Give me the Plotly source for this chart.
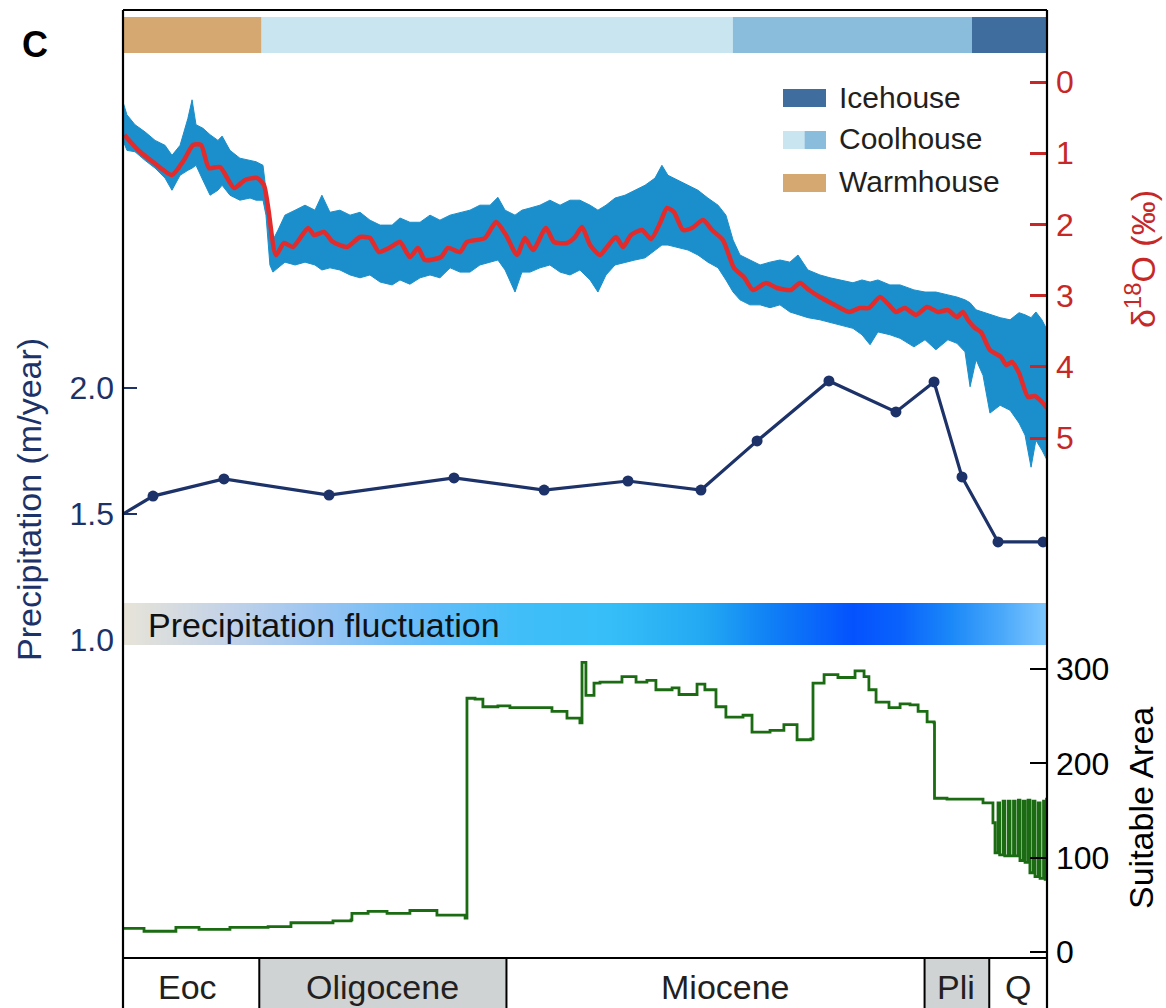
import numpy as np
import plotly.graph_objects as go

W, H = 1166, 1008
ML, MR, MT, MB = 123, 119, 10, 0
PW, PH = W - ML - MR, H - MT - MB


def px(x):
    return (x - ML) / PW


def py(y):
    return (H - MB - y) / PH


FONT = "Arial, Liberation Sans, sans-serif"
NAVY = "#1C3268"
RED = "#C62828"
REDLINE = "#E32B2B"
BLUE = "#1A8FCB"
GREEN = "#1A6B12"

# ---------------- data ----------------
precip_age = [40.0, 38.70, 35.63, 31.08, 25.67, 21.77, 18.14, 14.98, 12.55, 9.44, 6.54, 4.89, 3.68, 2.12, 0.17]
precip_val = [1.50, 1.571, 1.639, 1.575, 1.643, 1.595, 1.631, 1.595, 1.790, 2.028, 1.905, 2.024, 1.647, 1.389, 1.389]

d18o_smooth_age = [39.94, 39.35, 38.70, 37.88, 37.36, 36.97, 36.62, 36.28, 35.80, 35.19, 34.72, 34.20, 33.90,
                   33.72, 33.38, 33.03, 32.64, 31.99, 31.73, 31.30, 30.91, 30.30, 29.74, 29.31, 28.92, 28.48,
                   28.01, 27.58, 27.23, 26.93, 26.23, 25.93, 25.41, 25.11, 24.33, 23.85, 23.42, 22.94, 22.60,
                   22.25, 21.69, 21.34, 20.78, 20.43, 20.13, 19.78, 19.35, 19.05, 18.66, 18.35, 18.01, 17.53,
                   17.14, 16.75, 16.45, 16.15, 15.76, 15.37, 14.89, 14.50, 14.03, 13.55, 13.12, 12.73, 12.16,
                   11.69, 11.08, 10.69, 10.30, 9.83, 9.18, 8.57, 8.10, 7.71, 7.23, 6.84, 6.54, 6.15, 5.67,
                   5.19, 4.72, 4.29, 3.90, 3.64, 3.42, 3.12, 2.86, 2.47, 1.99, 1.77, 1.52, 1.21, 0.82, 0.52,
                   0.22, 0.00]
d18o_smooth_val = [0.744, 0.955, 1.124, 1.306, 1.096, 0.885, 0.885, 1.208, 1.194, 1.489, 1.376, 1.348, 1.447,
                   1.756, 2.430, 2.261, 2.317, 2.051, 2.149, 2.107, 2.247, 2.317, 2.177, 2.191, 2.388, 2.331,
                   2.247, 2.458, 2.331, 2.500, 2.458, 2.331, 2.388, 2.247, 2.191, 1.966, 2.149, 2.430, 2.191,
                   2.360, 2.051, 2.247, 2.261, 2.177, 2.037, 2.289, 2.430, 2.317, 2.177, 2.317, 2.149, 2.079,
                   2.205, 1.980, 1.770, 1.826, 2.079, 2.051, 1.938, 2.079, 2.219, 2.612, 2.739, 2.921, 2.823,
                   2.893, 2.921, 2.823, 2.921, 3.020, 3.132, 3.230, 3.174, 3.174, 3.020, 3.132, 3.230, 3.174,
                   3.272, 3.160, 3.230, 3.202, 3.301, 3.230, 3.343, 3.455, 3.511, 3.764, 3.862, 3.975, 3.933,
                   4.087, 4.424, 4.410, 4.494, 4.579]

d18o_raw_age = [40.00, 39.83, 39.48, 39.05, 38.61, 38.18, 37.88, 37.53, 37.19, 37.01, 36.84, 36.54, 36.23,
                35.89, 35.71, 35.37, 34.94, 34.50, 34.24, 33.94, 33.81, 33.64, 33.51, 33.29, 32.99, 32.55,
                32.12, 31.69, 31.39, 31.04, 30.61, 30.17, 29.74, 29.31, 28.87, 28.35, 28.01, 27.58, 27.14,
                26.71, 26.28, 25.84, 25.41, 24.98, 24.55, 24.11, 23.77, 23.46, 23.03, 22.73, 22.38, 21.95,
                21.52, 21.08, 20.65, 20.22, 19.78, 19.44, 19.09, 18.70, 18.27, 17.84, 17.40, 16.97, 16.67,
                16.41, 15.97, 15.54, 15.11, 14.68, 14.24, 13.90, 13.59, 13.29, 12.86, 12.42, 11.99, 11.56,
                11.13, 10.78, 10.35, 9.83, 9.39, 8.96, 8.40, 8.01, 7.66, 7.32, 6.80, 6.36, 5.76, 5.28, 4.81,
                4.29, 3.90, 3.55, 3.33, 3.07, 2.77, 2.47, 2.03, 1.60, 1.21, 0.95, 0.69, 0.48, 0.22, 0.00]
d18o_raw_min = [0.28, 0.46, 0.60, 0.70, 0.82, 0.89, 1.03, 0.89, 0.51, 0.25, 0.60, 0.65, 0.74, 0.82, 0.76,
                0.96, 1.07, 1.10, 1.12, 1.17, 1.52, 1.87, 2.22, 2.08, 1.87, 1.80, 1.73, 1.80, 1.59, 1.83,
                1.80, 1.87, 1.83, 1.94, 2.01, 2.01, 1.91, 1.97, 1.97, 1.87, 1.94, 1.87, 1.83, 1.80, 1.73,
                1.73, 1.62, 1.80, 1.87, 1.80, 1.77, 1.73, 1.66, 1.73, 1.66, 1.66, 1.73, 1.80, 1.73, 1.63,
                1.59, 1.52, 1.45, 1.35, 1.17, 1.31, 1.38, 1.45, 1.52, 1.63, 1.73, 1.87, 2.22, 2.43, 2.50,
                2.57, 2.53, 2.50, 2.53, 2.43, 2.64, 2.71, 2.75, 2.78, 2.82, 2.78, 2.81, 2.78, 2.85, 2.85,
                2.92, 2.95, 2.95, 2.99, 3.02, 3.06, 3.10, 3.20, 3.23, 3.27, 3.31, 3.34, 3.24, 3.27, 3.31,
                3.23, 3.34, 3.48]
d18o_raw_max = [0.82, 0.96, 0.98, 1.10, 1.21, 1.35, 1.52, 1.31, 1.24, 1.21, 1.17, 1.38, 1.59, 1.52, 1.45,
                1.59, 1.66, 1.63, 1.66, 1.66, 1.87, 2.57, 2.67, 2.61, 2.53, 2.57, 2.53, 2.57, 2.64, 2.61,
                2.64, 2.71, 2.75, 2.71, 2.81, 2.85, 2.78, 2.84, 2.75, 2.71, 2.75, 2.61, 2.67, 2.67, 2.57,
                2.53, 2.50, 2.64, 2.95, 2.67, 2.67, 2.61, 2.57, 2.67, 2.71, 2.64, 2.78, 2.95, 2.71, 2.57,
                2.53, 2.50, 2.47, 2.36, 2.29, 2.29, 2.33, 2.36, 2.43, 2.53, 2.61, 2.78, 2.95, 3.06, 3.13,
                3.13, 3.17, 3.13, 3.23, 3.27, 3.31, 3.34, 3.37, 3.41, 3.46, 3.55, 3.69, 3.51, 3.55, 3.60,
                3.72, 3.62, 3.76, 3.62, 3.67, 3.79, 4.28, 3.90, 4.12, 4.65, 4.54, 4.61, 4.79, 4.96, 5.41,
                5.03, 5.17, 5.31]

area_age = [40.0, 39.09, 37.71, 36.71, 35.37, 33.72, 32.73, 30.91, 30.13, 30.09, 29.39, 28.57, 27.58, 26.41,
            25.19, 25.11, 24.76, 24.42, 23.77, 23.25, 22.12, 21.43, 20.78, 20.22, 20.13, 19.96, 19.61, 19.35,
            18.40, 17.79, 17.32, 16.93, 16.23, 15.93, 15.15, 14.81, 14.33, 13.90, 13.16, 12.77, 11.99, 11.39,
            10.82, 10.22, 10.13, 9.65, 9.05, 8.31, 7.92, 7.71, 7.40, 6.84, 6.36, 5.93, 5.58, 5.19, 4.89, 4.87,
            4.33, 3.25, 2.77, 2.38, 2.34, 2.25, 2.12, 2.05, 1.90, 1.83, 1.68, 1.60, 1.45, 1.38, 1.24, 1.17,
            1.03, 0.95, 0.82, 0.74, 0.60, 0.52, 0.38, 0.30, 0.15, 0.08, 0.02, 0.0]
area_val = [25, 22, 26, 24, 26, 27, 31, 33, 34, 41, 43, 41, 44, 39,
            36, 269, 268, 260, 261, 259, 259, 255, 248, 243, 307, 272, 285, 286,
            292, 286, 288, 278, 280, 273, 284, 278, 260, 249, 251, 233, 235, 241,
            225, 226, 285, 294, 291, 298, 292, 278, 265, 259, 263, 262, 255, 244, 243, 163,
            162, 162, 158, 158, 137, 105, 158, 103, 160, 102, 160, 102, 160, 102, 161, 97,
            160, 95, 161, 84, 160, 80, 158, 78, 160, 77, 162, 162]

epoch_names = ["Eoc", "Oligocene", "Miocene", "Pli", "Q"]
epoch_start = [40.0, 34.1, 23.4, 5.3, 2.5]
epoch_end = [34.1, 23.4, 5.3, 2.5, 0.0]
epoch_label_age = [37.2, 28.75, 13.9, 3.95, 1.25]
epoch_shaded = [False, True, False, True, False]

climate_start = [40.0, 34.0, 13.6, 3.25]
climate_end = [34.0, 13.6, 3.25, 0.0]
climate_colors = ["#D4A870", "#C9E5F0", "#8ABDDC", "#3F6E9E"]

legend_labels = ["Icehouse", "Coolhouse", "Warmhouse"]

d18o_ticks = [0, 1, 2, 3, 4, 5]
precip_ticks = [1.0, 1.5, 2.0]
area_ticks = [0, 100, 200, 300]

grad_pos = [0.0, 0.114, 0.216, 0.32, 0.43, 0.527, 0.631, 0.70, 0.79, 0.84, 0.895, 0.95, 1.0]
grad_col = ["#E8E4D8", "#C2D2E8", "#98C4F2", "#68BCF8", "#40BEF8", "#36BEF8", "#22A8F2",
            "#1080F6", "#0452FE", "#0A62FC", "#1A88F8", "#4AA8FA", "#80C8FF"]

# ---------------- figure ----------------
fig = go.Figure()

# gradient band
nb = 300
band_x = np.linspace(40, 0, nb)
band_z = np.linspace(0, 1, nb)
fig.add_trace(go.Heatmap(x=band_x, y=[0, 1], z=[band_z, band_z], zmin=0, zmax=1,
                         colorscale=[[p, c] for p, c in zip(grad_pos, grad_col)],
                         showscale=False, zsmooth="best", xaxis="x", yaxis="y4", hoverinfo="skip"))

# raw d18O envelope
env_x = list(d18o_raw_age) + list(d18o_raw_age[::-1])
env_y = list(d18o_raw_min) + list(d18o_raw_max[::-1])
fig.add_trace(go.Scatter(x=env_x, y=env_y, fill="toself", fillcolor=BLUE, mode="lines",
                         line=dict(color=BLUE, width=1), xaxis="x", yaxis="y2", hoverinfo="skip"))
# smoothed d18O
fig.add_trace(go.Scatter(x=d18o_smooth_age, y=d18o_smooth_val, mode="lines",
                         line=dict(color=REDLINE, width=4.5, shape="spline", smoothing=0.6),
                         xaxis="x", yaxis="y2"))

# precipitation
fig.add_trace(go.Scatter(x=precip_age, y=precip_val, mode="lines",
                         line=dict(color=NAVY, width=3.2), xaxis="x", yaxis="y3"))
fig.add_trace(go.Scatter(x=precip_age[1:], y=precip_val[1:], mode="markers",
                         marker=dict(color=NAVY, size=11), xaxis="x", yaxis="y3"))

# suitable area
fig.add_trace(go.Scatter(x=area_age, y=area_val, mode="lines",
                         line=dict(color=GREEN, width=2.8, shape="hv"), xaxis="x", yaxis="y5"))

shapes = []
annotations = []

# top climate band
for s, e, c in zip(climate_start, climate_end, climate_colors):
    shapes.append(dict(type="rect", xref="x", yref="paper", x0=s, x1=e, y0=py(53), y1=py(17),
                       fillcolor=c, line=dict(width=0)))

# epoch band
for s, e, sh, name, la in zip(epoch_start, epoch_end, epoch_shaded, epoch_names, epoch_label_age):
    if sh:
        shapes.append(dict(type="rect", xref="x", yref="paper", x0=s, x1=e, y0=py(H), y1=py(958),
                           fillcolor="#D0D3D4", line=dict(width=0)))
    annotations.append(dict(x=la, y=py(987), xref="x", yref="paper", text=name,
                            showarrow=False, font=dict(size=34, color="#231F20", family=FONT),
                            xanchor="center", yanchor="middle"))
for b in epoch_start[1:]:
    shapes.append(dict(type="line", xref="x", yref="paper", x0=b, x1=b, y0=py(H), y1=py(958),
                       line=dict(color="black", width=2)))

# frame
frame = dict(color="black", width=2.2)
shapes.append(dict(type="line", xref="paper", yref="paper", x0=0, x1=1, y0=1, y1=1, line=frame))
shapes.append(dict(type="line", xref="paper", yref="paper", x0=0, x1=0, y0=0, y1=1, line=frame))
shapes.append(dict(type="line", xref="paper", yref="paper", x0=1, x1=1, y0=0, y1=1, line=frame))
shapes.append(dict(type="line", xref="paper", yref="paper", x0=0, x1=1, y0=py(958), y1=py(958), line=frame))

# legend
leg_rows = [(89, 107), (131, 149), (174, 192)]
leg_cols = [[climate_colors[3]], [climate_colors[1], climate_colors[2]], [climate_colors[0]]]
for (y0, y1), cols, lab in zip(leg_rows, leg_cols, legend_labels):
    n = len(cols)
    for i, c in enumerate(cols):
        xa = 783 + (826 - 783) * i / n
        xb = 783 + (826 - 783) * (i + 1) / n
        shapes.append(dict(type="rect", xref="paper", yref="paper", x0=px(xa), x1=px(xb),
                           y0=py(y1), y1=py(y0), fillcolor=c, line=dict(width=0)))
    annotations.append(dict(x=px(837), y=py((y0 + y1) / 2 - 1), xref="paper", yref="paper", text=lab,
                            showarrow=False, xanchor="left", yanchor="middle",
                            font=dict(size=30, color="#231F20", family=FONT)))

# band label
annotations.append(dict(x=px(146), y=py(625), xref="paper", yref="paper", text="Precipitation fluctuation",
                        showarrow=False, xanchor="left", yanchor="middle",
                        font=dict(size=34, color="#111111", family=FONT)))
# panel letter
annotations.append(dict(x=px(35), y=py(45), xref="paper", yref="paper", text="<b>C</b>",
                        showarrow=False, xanchor="center", yanchor="middle",
                        font=dict(size=36, color="black", family=FONT)))
# axis titles
annotations.append(dict(x=px(29), y=py(500), xref="paper", yref="paper", text="Precipitation (m/year)",
                        textangle=-90, showarrow=False, xanchor="center", yanchor="middle",
                        font=dict(size=34, color=NAVY, family=FONT)))
annotations.append(dict(x=px(1140), y=py(259), xref="paper", yref="paper", text="δ<sup>18</sup>O (‰)",
                        textangle=-90, showarrow=False, xanchor="center", yanchor="middle",
                        font=dict(size=34, color=RED, family=FONT)))
annotations.append(dict(x=px(1141), y=py(808), xref="paper", yref="paper", text="Suitable Area",
                        textangle=-90, showarrow=False, xanchor="center", yanchor="middle",
                        font=dict(size=34, color="black", family=FONT)))


def dval(y):
    return (y - 82) / 71.2


def pval(y):
    return 1.0 + (640 - y) / 252


def aval(y):
    return (952 - y) / 0.9433


TRANSP = "rgba(0,0,0,0)"
fig.update_layout(
    template="none",
    width=W, height=H, autosize=False,
    margin=dict(l=ML, r=MR, t=MT, b=MB, pad=0, autoexpand=False),
    plot_bgcolor=TRANSP, paper_bgcolor="white",
    showlegend=False,
    font=dict(family=FONT),
    xaxis=dict(range=[40, 0], domain=[0, 1], visible=False, fixedrange=True, automargin=False),
    yaxis2=dict(domain=[py(480), py(60)], range=[dval(480), dval(60)], anchor="x", side="right",
                tickvals=d18o_ticks, ticks="inside", ticklen=17, tickwidth=2.5, tickcolor=RED,
                tickfont=dict(size=32, color=RED, family=FONT), showgrid=False, zeroline=False,
                showline=False, ticklabelstandoff=8, automargin=False),
    yaxis3=dict(domain=[py(700), py(300)], range=[pval(700), pval(300)], anchor="x", side="left",
                tickvals=precip_ticks, ticktext=[f"{v:.1f}" for v in precip_ticks],
                ticks="inside", ticklen=14, tickwidth=2.2, tickcolor=NAVY,
                tickfont=dict(size=32, color=NAVY, family=FONT), showgrid=False, zeroline=False,
                showline=False, ticklabelstandoff=8, automargin=False),
    yaxis4=dict(domain=[py(645), py(603)], range=[0, 1], anchor="x", visible=False, automargin=False),
    yaxis5=dict(domain=[py(958), py(650)], range=[aval(958), aval(650)], anchor="x", side="right",
                tickvals=area_ticks, ticks="inside", ticklen=17, tickwidth=2.2, tickcolor="black",
                tickfont=dict(size=32, color="black", family=FONT), showgrid=False, zeroline=False,
                showline=False, ticklabelstandoff=8, automargin=False),
    shapes=shapes,
    annotations=annotations,
)

fig.write_html("out.html", config={"displayModeBar": False},
               post_script="document.body.style.margin='0';document.body.style.overflow='hidden';")
